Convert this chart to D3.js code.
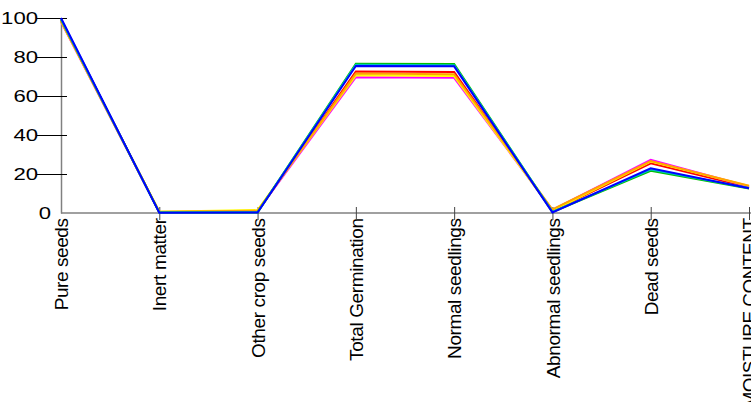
<!DOCTYPE html>
<html>
<head>
<meta charset="utf-8">
<script src="https://cdn.jsdelivr.net/npm/d3@7"></script>
<style>
  html, body { margin: 0; padding: 0; background: #fff; }
  svg { display: block; font-family: "Liberation Sans", Arial, sans-serif; }
</style>
</head>
<body>
<svg id="chart" width="751" height="402"></svg>
<script>
// Seed quality parameters (percent) for several seed lots
const categories = ["Pure seeds", "Inert matter", "Other crop seeds", "Total Germination",
                    "Normal seedlings", "Abnormal seedlings", "Dead seeds", "MOISTURE CONTENT"];
const yTicks = [0, 20, 40, 60, 80, 100];

const lotRed     = [98.8, 0.5, 0.6, 72.6, 72.3, 1.0, 25.5, 13.2];
const lotMagenta = [98.0, 0.4, 1.0, 69.6, 69.3, 1.6, 27.3, 13.6];
const lotYellow  = [98.3, 0.6, 1.5, 70.6, 70.2, 1.2, 26.4, 13.9];
const lotOrange  = [98.5, 0.7, 1.2, 71.5, 71.2, 1.8, 26.6, 14.0];
const lotGreen   = [99.3, 0.3, 0.3, 76.6, 76.4, 0.5, 21.6, 12.6];
const lotCyan    = [99.5, 0.2, 0.4, 76.0, 75.8, 0.6, 22.3, 12.8];
const lotBlue    = [100,  0.1, 0.2, 75.4, 75.2, 0.3, 22.9, 12.7];

const seriesList = [
  { color: "#ff0000", values: lotRed },
  { color: "#ff00ff", values: lotMagenta },
  { color: "#ffff00", values: lotYellow },
  { color: "#ffa500", values: lotOrange },
  { color: "#00c000", values: lotGreen },
  { color: "#00c0c0", values: lotCyan },
  { color: "#0000ff", values: lotBlue }
];

const svg = d3.select("#chart");
const x = d3.scalePoint().domain(categories).range([61, 749]);
const y = d3.scaleLinear().domain([0, 100]).range([213, 18]);

// Y axis
const yAxis = svg.append("g")
  .attr("transform", "translate(61,0)")
  .call(d3.axisLeft(y).tickValues(yTicks).tickSize(0).tickPadding(0));
yAxis.select(".domain").attr("stroke", "#808080").attr("stroke-width", 1.5);
yAxis.selectAll(".tick").each(function(d) {
  const g = d3.select(this);
  if (d !== 0) {
    g.append("line").attr("x1", -24).attr("x2", 6).attr("stroke", "#000").attr("stroke-width", 1);
  }
  g.select("text")
    .attr("x", d === 0 ? -10 : -23)
    .attr("dy", "0.35em")
    .attr("fill", "#000")
    .style("font-size", "17px")
    .attr("textLength", String(d).length * 12.3)
    .attr("lengthAdjust", "spacingAndGlyphs");
});

// X axis
const xAxis = svg.append("g")
  .attr("transform", "translate(0,213)")
  .call(d3.axisBottom(x).tickSize(0).tickPadding(0));
xAxis.select(".domain").attr("stroke", "#808080").attr("stroke-width", 1.5)
  .attr("d", "M61,0H751");
xAxis.selectAll(".tick").each(function(d, i) {
  const g = d3.select(this);
  if (i > 0) {
    g.append("line").attr("y1", -6).attr("y2", 7).attr("stroke", "#444").attr("stroke-width", 1);
  }
  const t = g.select("text")
    .attr("transform", "rotate(-90)")
    .attr("x", -5)
    .attr("y", 0)
    .attr("dy", "0.35em")
    .attr("text-anchor", "end")
    .attr("fill", "#000")
    .style("font-size", "19px");
  // tighten the letter spacing of the rotated labels
  const natural = t.node().getComputedTextLength();
  t.attr("textLength", natural * 0.96).attr("lengthAdjust", "spacing");
});

// Series lines
const line = d3.line()
  .x((v, i) => x(categories[i]))
  .y(v => y(v));

svg.append("g").selectAll("path")
  .data(seriesList)
  .join("path")
  .attr("d", s => line(s.values))
  .attr("fill", "none")
  .attr("stroke", s => s.color)
  .attr("stroke-width", 2);
</script>
</body>
</html>
